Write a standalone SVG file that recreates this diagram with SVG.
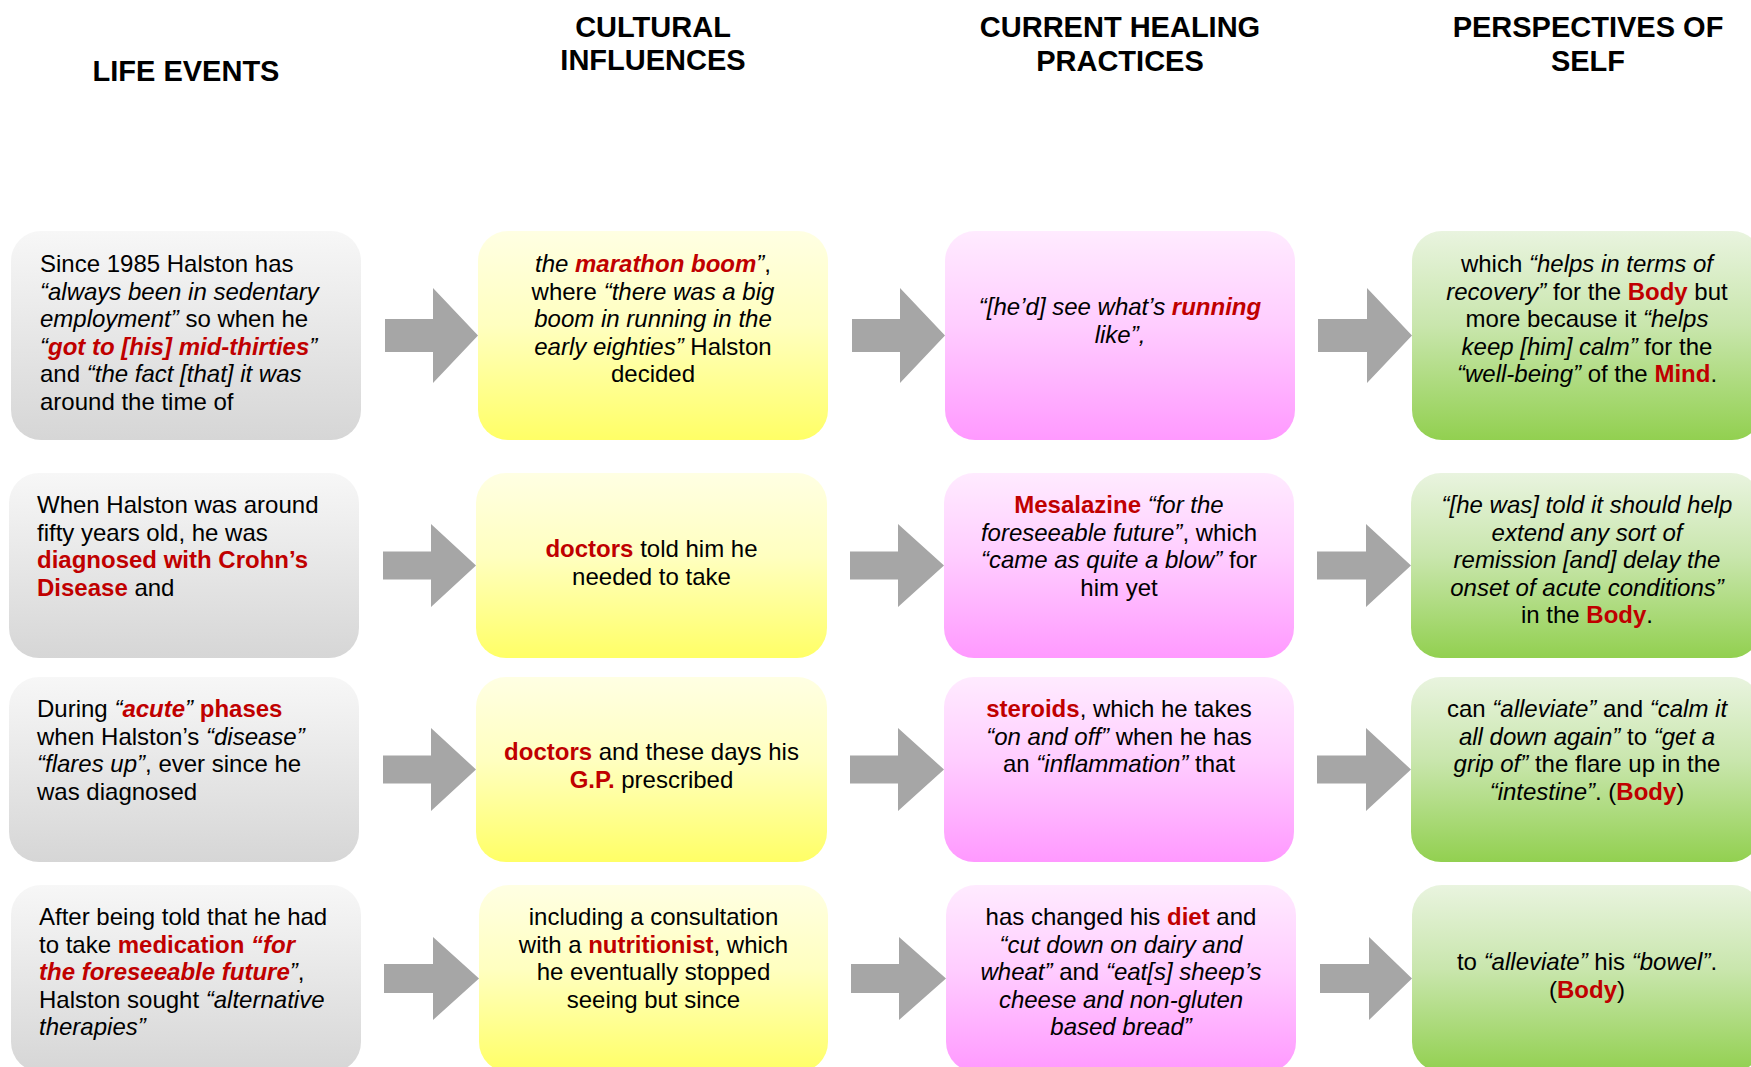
<svg xmlns="http://www.w3.org/2000/svg" width="1751" height="1067" viewBox="0 0 1751 1067">
  <defs>
    <linearGradient id="gGray" x1="0" y1="0" x2="0" y2="1">
      <stop offset="0" stop-color="#f7f7f7"/>
      <stop offset="1" stop-color="#d6d6d6"/>
    </linearGradient>
    <linearGradient id="gYellow" x1="0" y1="0" x2="0" y2="1">
      <stop offset="0" stop-color="#ffffe3"/>
      <stop offset="0.45" stop-color="#ffffc0"/>
      <stop offset="1" stop-color="#ffff66"/>
    </linearGradient>
    <linearGradient id="gPink" x1="0" y1="0" x2="0" y2="1">
      <stop offset="0" stop-color="#ffebff"/>
      <stop offset="0.45" stop-color="#ffcdff"/>
      <stop offset="1" stop-color="#ff99ff"/>
    </linearGradient>
    <linearGradient id="gGreen" x1="0" y1="0" x2="0" y2="1">
      <stop offset="0" stop-color="#e9f4df"/>
      <stop offset="0.45" stop-color="#c9e6ad"/>
      <stop offset="1" stop-color="#92d050"/>
    </linearGradient>
  </defs>
  <style>
    text { font-family: "Liberation Sans", Arial, sans-serif; font-size: 24px; fill: #000; }
    .hd { font-size: 29px; font-weight: bold; text-anchor: middle; }
    .c { text-anchor: middle; }
    .i { font-style: italic; }
    .b { font-weight: bold; }
    .r { font-weight: bold; fill: #c00000; }
    .gray { fill: url(#gGray); }
    .yellow { fill: url(#gYellow); }
    .pink { fill: url(#gPink); }
    .green { fill: url(#gGreen); }
    .arrow { fill: #a6a6a6; }
  </style>

  <rect width="1751" height="1067" fill="#ffffff"/>

  <!-- column headings -->
  <g id="headings">
    <text class="hd" x="186" y="81">LIFE EVENTS</text>
    <text class="hd" x="653" y="37">CULTURAL</text>
    <text class="hd" x="653" y="70">INFLUENCES</text>
    <text class="hd" x="1120" y="37">CURRENT HEALING</text>
    <text class="hd" x="1120" y="71">PRACTICES</text>
    <text class="hd" x="1588" y="37">PERSPECTIVES OF</text>
    <text class="hd" x="1588" y="71">SELF</text>
  </g>

  <!-- connectors: block arrows between columns -->
  <g id="connectors">
    <polygon class="arrow" points="385,319 433,319 433,288 478,335.5 433,383 433,352 385,352"/>
    <polygon class="arrow" points="852,319 900,319 900,288 945,335.5 900,383 900,352 852,352"/>
    <polygon class="arrow" points="1318,319 1367,319 1367,288 1412,335.5 1367,383 1367,352 1318,352"/>

    <polygon class="arrow" points="383,551.5 431,551.5 431,524 476,565.5 431,607 431,579.5 383,579.5"/>
    <polygon class="arrow" points="850,551.5 898,551.5 898,524 944,565.5 898,607 898,579.5 850,579.5"/>
    <polygon class="arrow" points="1317,551.5 1366,551.5 1366,524 1411,565.5 1366,607 1366,579.5 1317,579.5"/>

    <polygon class="arrow" points="383,755.5 431,755.5 431,728 476,769.5 431,811 431,783.5 383,783.5"/>
    <polygon class="arrow" points="850,755.5 898,755.5 898,728 944,769.5 898,811 898,783.5 850,783.5"/>
    <polygon class="arrow" points="1317,755.5 1366,755.5 1366,728 1411,769.5 1366,811 1366,783.5 1317,783.5"/>

    <polygon class="arrow" points="384,964 433,964 433,937 479,978.5 433,1020 433,993 384,993"/>
    <polygon class="arrow" points="851,964 899,964 899,937 946,978.5 899,1020 899,993 851,993"/>
    <polygon class="arrow" points="1320,964 1369,964 1369,937 1412,978.5 1369,1020 1369,993 1320,993"/>
  </g>

  <!-- row 1 -->
  <g id="life-1">
    <rect class="gray" x="11" y="231" width="350" height="209" rx="30"/>
    <text x="40" y="272">Since 1985 Halston has</text>
    <text x="40" y="299.5" class="i">“always been in sedentary</text>
    <text x="40" y="327"><tspan class="i">employment”</tspan> so when he</text>
    <text x="40" y="354.5"><tspan class="i">“</tspan><tspan class="r i">got to [his] mid-thirties</tspan><tspan class="i">”</tspan></text>
    <text x="40" y="382">and <tspan class="i">“the fact [that] it was</tspan></text>
    <text x="40" y="409.5">around the time of</text>
  </g>
  <g id="culture-1">
    <rect class="yellow" x="478" y="231" width="350" height="209" rx="30"/>
    <text class="c" x="653" y="272"><tspan class="i">the </tspan><tspan class="r i">marathon boom</tspan><tspan class="i">”</tspan>,</text>
    <text class="c" x="653" y="299.5">where <tspan class="i">“there was a big</tspan></text>
    <text class="c i" x="653" y="327">boom in running in the</text>
    <text class="c" x="653" y="354.5"><tspan class="i">early eighties”</tspan> Halston</text>
    <text class="c" x="653" y="382">decided</text>
  </g>
  <g id="practice-1">
    <rect class="pink" x="945" y="231" width="350" height="209" rx="30"/>
    <text class="c i" x="1120" y="315">“[he’d] see what’s <tspan class="r">running</tspan></text>
    <text class="c i" x="1120" y="342.5">like”,</text>
  </g>
  <g id="self-1">
    <rect class="green" x="1412" y="231" width="350" height="209" rx="30"/>
    <text class="c" x="1587" y="272">which <tspan class="i">“helps in terms of</tspan></text>
    <text class="c" x="1587" y="299.5"><tspan class="i">recovery”</tspan> for the <tspan class="r">Body</tspan> but</text>
    <text class="c" x="1587" y="327">more because it <tspan class="i">“helps</tspan></text>
    <text class="c" x="1587" y="354.5"><tspan class="i">keep [him] calm”</tspan> for the</text>
    <text class="c" x="1587" y="382"><tspan class="i">“well-being”</tspan> of the <tspan class="r">Mind</tspan>.</text>
  </g>

  <!-- row 2 -->
  <g id="life-2">
    <rect class="gray" x="9" y="473" width="350" height="185" rx="30"/>
    <text x="37" y="513">When Halston was around</text>
    <text x="37" y="540.5">fifty years old, he was</text>
    <text x="37" y="568" class="r">diagnosed with Crohn’s</text>
    <text x="37" y="595.5"><tspan class="r">Disease</tspan> and</text>
  </g>
  <g id="culture-2">
    <rect class="yellow" x="476" y="473" width="351" height="185" rx="30"/>
    <text class="c" x="651.5" y="557"><tspan class="r">doctors</tspan> told him he</text>
    <text class="c" x="651.5" y="584.5">needed to take</text>
  </g>
  <g id="practice-2">
    <rect class="pink" x="944" y="473" width="350" height="185" rx="30"/>
    <text class="c" x="1119" y="513"><tspan class="r">Mesalazine</tspan> <tspan class="i">“for the</tspan></text>
    <text class="c" x="1119" y="540.5"><tspan class="i">foreseeable future”</tspan>, which</text>
    <text class="c" x="1119" y="568"><tspan class="i">“came as quite a blow”</tspan> for</text>
    <text class="c" x="1119" y="595.5">him yet</text>
  </g>
  <g id="self-2">
    <rect class="green" x="1411" y="473" width="350" height="185" rx="30"/>
    <text class="c i" x="1587" y="513">“[he was] told it should help</text>
    <text class="c i" x="1587" y="540.5">extend any sort of</text>
    <text class="c i" x="1587" y="568">remission [and] delay the</text>
    <text class="c i" x="1587" y="595.5">onset of acute conditions”</text>
    <text class="c" x="1587" y="623">in the <tspan class="r">Body</tspan>.</text>
  </g>

  <!-- row 3 -->
  <g id="life-3">
    <rect class="gray" x="9" y="677" width="350" height="185" rx="30"/>
    <text x="37" y="717">During <tspan class="i">“</tspan><tspan class="r i">acute</tspan><tspan class="i">”</tspan> <tspan class="r">phases</tspan></text>
    <text x="37" y="744.5">when Halston’s <tspan class="i">“disease”</tspan></text>
    <text x="37" y="772"><tspan class="i">“flares up”</tspan>, ever since he</text>
    <text x="37" y="799.5">was diagnosed</text>
  </g>
  <g id="culture-3">
    <rect class="yellow" x="476" y="677" width="351" height="185" rx="30"/>
    <text class="c" x="651.5" y="760"><tspan class="r">doctors</tspan> and these days his</text>
    <text class="c" x="651.5" y="787.5"><tspan class="r">G.P.</tspan> prescribed</text>
  </g>
  <g id="practice-3">
    <rect class="pink" x="944" y="677" width="350" height="185" rx="30"/>
    <text class="c" x="1119" y="717"><tspan class="r">steroids</tspan>, which he takes</text>
    <text class="c" x="1119" y="744.5"><tspan class="i">“on and off”</tspan> when he has</text>
    <text class="c" x="1119" y="772">an <tspan class="i">“inflammation”</tspan> that</text>
  </g>
  <g id="self-3">
    <rect class="green" x="1411" y="677" width="350" height="185" rx="30"/>
    <text class="c" x="1587" y="717">can <tspan class="i">“alleviate”</tspan> and <tspan class="i">“calm it</tspan></text>
    <text class="c" x="1587" y="744.5"><tspan class="i">all down again”</tspan> to <tspan class="i">“get a</tspan></text>
    <text class="c" x="1587" y="772"><tspan class="i">grip of”</tspan> the flare up in the</text>
    <text class="c" x="1587" y="799.5"><tspan class="i">“intestine”</tspan>. (<tspan class="r">Body</tspan>)</text>
  </g>

  <!-- row 4 -->
  <g id="life-4">
    <rect class="gray" x="11" y="885" width="350" height="187" rx="30"/>
    <text x="39" y="925">After being told that he had</text>
    <text x="39" y="952.5">to take <tspan class="r">medication</tspan> <tspan class="r i">“for</tspan></text>
    <text x="39" y="980"><tspan class="r i">the foreseeable future</tspan><tspan class="i">”</tspan>,</text>
    <text x="39" y="1007.5">Halston sought <tspan class="i">“alternative</tspan></text>
    <text x="39" y="1035" class="i">therapies”</text>
  </g>
  <g id="culture-4">
    <rect class="yellow" x="479" y="885" width="349" height="187" rx="30"/>
    <text class="c" x="653.5" y="925">including a consultation</text>
    <text class="c" x="653.5" y="952.5">with a <tspan class="r">nutritionist</tspan>, which</text>
    <text class="c" x="653.5" y="980">he eventually stopped</text>
    <text class="c" x="653.5" y="1007.5">seeing but since</text>
  </g>
  <g id="practice-4">
    <rect class="pink" x="946" y="885" width="350" height="187" rx="30"/>
    <text class="c" x="1121" y="925">has changed his <tspan class="r">diet</tspan> and</text>
    <text class="c i" x="1121" y="952.5">“cut down on dairy and</text>
    <text class="c" x="1121" y="980"><tspan class="i">wheat”</tspan> and <tspan class="i">“eat[s] sheep’s</tspan></text>
    <text class="c i" x="1121" y="1007.5">cheese and non-gluten</text>
    <text class="c i" x="1121" y="1035">based bread”</text>
  </g>
  <g id="self-4">
    <rect class="green" x="1412" y="885" width="350" height="187" rx="30"/>
    <text class="c" x="1587" y="970">to <tspan class="i">“alleviate”</tspan> his <tspan class="i">“bowel”</tspan>.</text>
    <text class="c" x="1587" y="997.5">(<tspan class="r">Body</tspan>)</text>
  </g>
</svg>
